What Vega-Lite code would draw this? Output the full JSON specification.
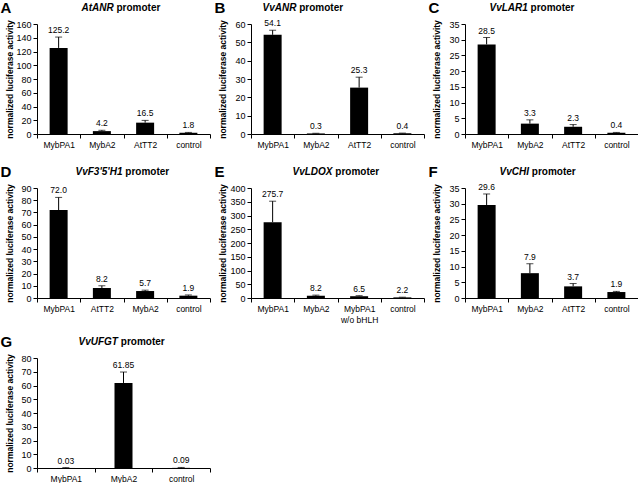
{
"$schema": "https://vega.github.io/schema/vega-lite/v6.json",
"background": "white",
"padding": {"left": 0, "top": 0, "right": 0, "bottom": 0},
"config": {
  "font": "Liberation Sans",
  "view": {"stroke": null},
  "scale": {"bandPaddingInner": 0, "bandPaddingOuter": 0},
  "axis": {"grid": false, "domainColor": "#000", "tickColor": "#000", "labelColor": "#000", "titleColor": "#000", "tickSize": 4, "labelPadding": 2, "labelFont": "Liberation Sans", "titleFont": "Liberation Sans"},
  "text": {"font": "Liberation Sans", "fontSize": 8.5, "color": "#000"}
},
"data": {"values": [
  {"p":"A","c":"MybPA1","o":1,"v":125.2,"hi":141,"l":"125.2"},
  {"p":"A","c":"MybA2","o":2,"v":4.2,"hi":5.4,"l":"4.2"},
  {"p":"A","c":"AtTT2","o":3,"v":16.5,"hi":19.8,"l":"16.5"},
  {"p":"A","c":"control","o":4,"v":1.8,"hi":2.3,"l":"1.8"},
  {"p":"B","c":"MybPA1","o":1,"v":54.1,"hi":56.6,"l":"54.1"},
  {"p":"B","c":"MybA2","o":2,"v":0.3,"hi":0.4,"l":"0.3"},
  {"p":"B","c":"AtTT2","o":3,"v":25.3,"hi":31,"l":"25.3"},
  {"p":"B","c":"control","o":4,"v":0.4,"hi":0.5,"l":"0.4"},
  {"p":"C","c":"MybPA1","o":1,"v":28.5,"hi":30.7,"l":"28.5"},
  {"p":"C","c":"MybA2","o":2,"v":3.3,"hi":4.5,"l":"3.3"},
  {"p":"C","c":"AtTT2","o":3,"v":2.3,"hi":3.0,"l":"2.3"},
  {"p":"C","c":"control","o":4,"v":0.4,"hi":0.5,"l":"0.4"},
  {"p":"D","c":"MybPA1","o":1,"v":72.0,"hi":82.3,"l":"72.0"},
  {"p":"D","c":"AtTT2","o":2,"v":8.2,"hi":10,"l":"8.2"},
  {"p":"D","c":"MybA2","o":3,"v":5.7,"hi":6.4,"l":"5.7"},
  {"p":"D","c":"control","o":4,"v":1.9,"hi":2.5,"l":"1.9"},
  {"p":"E","c":"MybPA1","o":1,"v":275.7,"hi":352,"l":"275.7"},
  {"p":"E","c":"MybA2","o":2,"v":8.2,"hi":10.5,"l":"8.2"},
  {"p":"E","c":"MybPA1|w/o bHLH","o":3,"v":6.5,"hi":8.5,"l":"6.5"},
  {"p":"E","c":"control","o":4,"v":2.2,"hi":3,"l":"2.2"},
  {"p":"F","c":"MybPA1","o":1,"v":29.6,"hi":33.1,"l":"29.6"},
  {"p":"F","c":"MybA2","o":2,"v":7.9,"hi":10.9,"l":"7.9"},
  {"p":"F","c":"AtTT2","o":3,"v":3.7,"hi":4.6,"l":"3.7"},
  {"p":"F","c":"control","o":4,"v":1.9,"hi":2.1,"l":"1.9"},
  {"p":"G","c":"MybPA1","o":1,"v":0.03,"hi":0.3,"l":"0.03"},
  {"p":"G","c":"MybA2","o":2,"v":61.85,"hi":69.8,"l":"61.85"},
  {"p":"G","c":"control","o":3,"v":0.09,"hi":0.4,"l":"0.09"}
]},
"spacing": 10,
"vconcat": [
 {"spacing": 15, "vconcat": [
  {"spacing": 3, "hconcat": [
   {"width": 173, "height": 110, "transform": [{"filter": "datum.p == 'A'"}], "resolve": {"axis": {"x": "independent", "y": "independent"}},
    "layer": [
     {"mark": {"type": "bar", "color": "#000", "size": 18}, "encoding": {
       "x": {"field": "c", "type": "nominal", "sort": {"field": "o", "op": "min"}, "axis": {"title": null, "labelAngle": 0, "labelExpr": "split(datum.label, '|')", "tickBand": "extent", "labelFontSize": 8.5, "labelLineHeight": 11}},
       "y": {"field": "v", "type": "quantitative", "scale": {"domain": [0, 160], "nice": false}, "axis": {"values": [0,20,40,60,80,100,120,140,160], "labelFontSize": 9, "title": "normalized luciferase activity", "titleFontSize": 8.5, "titleFontWeight": "bold", "titleX": -28, "titleY": 55, "titleAngle": 270, "titleAlign": "center", "titleBaseline": "middle"}}}},
     {"mark": {"type": "rule", "color": "#000"}, "encoding": {
       "x": {"field": "c", "type": "nominal", "sort": {"field": "o", "op": "min"}, "axis": {"orient": "top", "labels": false, "ticks": false, "domain": false, "title": "A", "titleFontSize": 15, "titleFontWeight": "bold", "titleAngle": 0, "titleAlign": "left", "titleBaseline": "alphabetic", "titleX": -37, "titleY": -12}},
       "y": {"field": "v", "type": "quantitative", "scale": {"domain": [0, 160], "nice": false}, "axis": null},
       "y2": {"field": "hi"}}},
     {"mark": {"type": "tick", "color": "#000", "size": 7, "thickness": 1}, "encoding": {
       "x": {"field": "c", "type": "nominal", "sort": {"field": "o", "op": "min"}, "axis": {"orient": "top", "labels": false, "ticks": false, "domain": false, "title": "AtANR", "titleFontSize": 10, "titleFontWeight": "bold", "titleFontStyle": "italic", "titleAngle": 0, "titleAlign": "left", "titleBaseline": "alphabetic", "titleX": 44, "titleY": -14}},
       "y": {"field": "hi", "type": "quantitative", "scale": {"domain": [0, 160], "nice": false}, "axis": {"orient": "right", "labels": false, "ticks": false, "domain": false, "title": "promoter", "titleFontSize": 10, "titleFontWeight": "bold", "titleAngle": 0, "titleAlign": "left", "titleBaseline": "alphabetic", "titleX": -94, "titleY": -14}}}},
     {"mark": {"type": "text", "dy": -4, "baseline": "alphabetic"}, "encoding": {
       "x": {"field": "c", "type": "nominal", "sort": {"field": "o", "op": "min"}, "axis": null},
       "y": {"field": "hi", "type": "quantitative", "scale": {"domain": [0, 160], "nice": false}, "axis": null},
       "text": {"field": "l"}}}
    ]},
   {"width": 173, "height": 110, "transform": [{"filter": "datum.p == 'B'"}], "resolve": {"axis": {"x": "independent", "y": "independent"}},
    "layer": [
     {"mark": {"type": "bar", "color": "#000", "size": 18}, "encoding": {
       "x": {"field": "c", "type": "nominal", "sort": {"field": "o", "op": "min"}, "axis": {"title": null, "labelAngle": 0, "labelExpr": "split(datum.label, '|')", "tickBand": "extent", "labelFontSize": 8.5, "labelLineHeight": 11}},
       "y": {"field": "v", "type": "quantitative", "scale": {"domain": [0, 60], "nice": false}, "axis": {"values": [0,10,20,30,40,50,60], "labelFontSize": 9, "title": "normalized luciferase activity", "titleFontSize": 8.5, "titleFontWeight": "bold", "titleX": -29, "titleY": 55, "titleAngle": 270, "titleAlign": "center", "titleBaseline": "middle"}}}},
     {"mark": {"type": "rule", "color": "#000"}, "encoding": {
       "x": {"field": "c", "type": "nominal", "sort": {"field": "o", "op": "min"}, "axis": {"orient": "top", "labels": false, "ticks": false, "domain": false, "title": "B", "titleFontSize": 15, "titleFontWeight": "bold", "titleAngle": 0, "titleAlign": "left", "titleBaseline": "alphabetic", "titleX": -37, "titleY": -12}},
       "y": {"field": "v", "type": "quantitative", "scale": {"domain": [0, 60], "nice": false}, "axis": null},
       "y2": {"field": "hi"}}},
     {"mark": {"type": "tick", "color": "#000", "size": 7, "thickness": 1}, "encoding": {
       "x": {"field": "c", "type": "nominal", "sort": {"field": "o", "op": "min"}, "axis": {"orient": "top", "labels": false, "ticks": false, "domain": false, "title": "VvANR", "titleFontSize": 10, "titleFontWeight": "bold", "titleFontStyle": "italic", "titleAngle": 0, "titleAlign": "left", "titleBaseline": "alphabetic", "titleX": 11, "titleY": -14}},
       "y": {"field": "hi", "type": "quantitative", "scale": {"domain": [0, 60], "nice": false}, "axis": {"orient": "right", "labels": false, "ticks": false, "domain": false, "title": "promoter", "titleFontSize": 10, "titleFontWeight": "bold", "titleAngle": 0, "titleAlign": "left", "titleBaseline": "alphabetic", "titleX": -125.3, "titleY": -14}}}},
     {"mark": {"type": "text", "dy": -4, "baseline": "alphabetic"}, "encoding": {
       "x": {"field": "c", "type": "nominal", "sort": {"field": "o", "op": "min"}, "axis": null},
       "y": {"field": "hi", "type": "quantitative", "scale": {"domain": [0, 60], "nice": false}, "axis": null},
       "text": {"field": "l"}}}
    ]},
   {"width": 173, "height": 110, "transform": [{"filter": "datum.p == 'C'"}], "resolve": {"axis": {"x": "independent", "y": "independent"}},
    "layer": [
     {"mark": {"type": "bar", "color": "#000", "size": 18}, "encoding": {
       "x": {"field": "c", "type": "nominal", "sort": {"field": "o", "op": "min"}, "axis": {"title": null, "labelAngle": 0, "labelExpr": "split(datum.label, '|')", "tickBand": "extent", "labelFontSize": 8.5, "labelLineHeight": 11}},
       "y": {"field": "v", "type": "quantitative", "scale": {"domain": [0, 35], "nice": false}, "axis": {"values": [0,5,10,15,20,25,30,35], "labelFontSize": 9, "title": "normalized luciferase activity", "titleFontSize": 8.5, "titleFontWeight": "bold", "titleX": -29, "titleY": 55, "titleAngle": 270, "titleAlign": "center", "titleBaseline": "middle"}}}},
     {"mark": {"type": "rule", "color": "#000"}, "encoding": {
       "x": {"field": "c", "type": "nominal", "sort": {"field": "o", "op": "min"}, "axis": {"orient": "top", "labels": false, "ticks": false, "domain": false, "title": "C", "titleFontSize": 15, "titleFontWeight": "bold", "titleAngle": 0, "titleAlign": "left", "titleBaseline": "alphabetic", "titleX": -37, "titleY": -12}},
       "y": {"field": "v", "type": "quantitative", "scale": {"domain": [0, 35], "nice": false}, "axis": null},
       "y2": {"field": "hi"}}},
     {"mark": {"type": "tick", "color": "#000", "size": 7, "thickness": 1}, "encoding": {
       "x": {"field": "c", "type": "nominal", "sort": {"field": "o", "op": "min"}, "axis": {"orient": "top", "labels": false, "ticks": false, "domain": false, "title": "VvLAR1", "titleFontSize": 10, "titleFontWeight": "bold", "titleFontStyle": "italic", "titleAngle": 0, "titleAlign": "left", "titleBaseline": "alphabetic", "titleX": 24, "titleY": -14}},
       "y": {"field": "hi", "type": "quantitative", "scale": {"domain": [0, 35], "nice": false}, "axis": {"orient": "right", "labels": false, "ticks": false, "domain": false, "title": "promoter", "titleFontSize": 10, "titleFontWeight": "bold", "titleAngle": 0, "titleAlign": "left", "titleBaseline": "alphabetic", "titleX": -107.9, "titleY": -14}}}},
     {"mark": {"type": "text", "dy": -4, "baseline": "alphabetic"}, "encoding": {
       "x": {"field": "c", "type": "nominal", "sort": {"field": "o", "op": "min"}, "axis": null},
       "y": {"field": "hi", "type": "quantitative", "scale": {"domain": [0, 35], "nice": false}, "axis": null},
       "text": {"field": "l"}}}
    ]}
  ]},
  {"spacing": 3, "hconcat": [
   {"width": 173, "height": 110, "transform": [{"filter": "datum.p == 'D'"}], "resolve": {"axis": {"x": "independent", "y": "independent"}},
    "layer": [
     {"mark": {"type": "bar", "color": "#000", "size": 18}, "encoding": {
       "x": {"field": "c", "type": "nominal", "sort": {"field": "o", "op": "min"}, "axis": {"title": null, "labelAngle": 0, "labelExpr": "split(datum.label, '|')", "tickBand": "extent", "labelFontSize": 8.5, "labelLineHeight": 11}},
       "y": {"field": "v", "type": "quantitative", "scale": {"domain": [0, 90], "nice": false}, "axis": {"values": [0,10,20,30,40,50,60,70,80,90], "labelFontSize": 9, "title": "normalized luciferase activity", "titleFontSize": 8.5, "titleFontWeight": "bold", "titleX": -28, "titleY": 55, "titleAngle": 270, "titleAlign": "center", "titleBaseline": "middle"}}}},
     {"mark": {"type": "rule", "color": "#000"}, "encoding": {
       "x": {"field": "c", "type": "nominal", "sort": {"field": "o", "op": "min"}, "axis": {"orient": "top", "labels": false, "ticks": false, "domain": false, "title": "D", "titleFontSize": 15, "titleFontWeight": "bold", "titleAngle": 0, "titleAlign": "left", "titleBaseline": "alphabetic", "titleX": -37, "titleY": -12}},
       "y": {"field": "v", "type": "quantitative", "scale": {"domain": [0, 90], "nice": false}, "axis": null},
       "y2": {"field": "hi"}}},
     {"mark": {"type": "tick", "color": "#000", "size": 7, "thickness": 1}, "encoding": {
       "x": {"field": "c", "type": "nominal", "sort": {"field": "o", "op": "min"}, "axis": {"orient": "top", "labels": false, "ticks": false, "domain": false, "title": "VvF3'5'H1", "titleFontSize": 10, "titleFontWeight": "bold", "titleFontStyle": "italic", "titleAngle": 0, "titleAlign": "left", "titleBaseline": "alphabetic", "titleX": 38, "titleY": -14}},
       "y": {"field": "hi", "type": "quantitative", "scale": {"domain": [0, 90], "nice": false}, "axis": {"orient": "right", "labels": false, "ticks": false, "domain": false, "title": "promoter", "titleFontSize": 10, "titleFontWeight": "bold", "titleAngle": 0, "titleAlign": "left", "titleBaseline": "alphabetic", "titleX": -85.2, "titleY": -14}}}},
     {"mark": {"type": "text", "dy": -4, "baseline": "alphabetic"}, "encoding": {
       "x": {"field": "c", "type": "nominal", "sort": {"field": "o", "op": "min"}, "axis": null},
       "y": {"field": "hi", "type": "quantitative", "scale": {"domain": [0, 90], "nice": false}, "axis": null},
       "text": {"field": "l"}}}
    ]},
   {"width": 173, "height": 110, "transform": [{"filter": "datum.p == 'E'"}], "resolve": {"axis": {"x": "independent", "y": "independent"}},
    "layer": [
     {"mark": {"type": "bar", "color": "#000", "size": 18}, "encoding": {
       "x": {"field": "c", "type": "nominal", "sort": {"field": "o", "op": "min"}, "axis": {"title": null, "labelAngle": 0, "labelExpr": "split(datum.label, '|')", "tickBand": "extent", "labelFontSize": 8.5, "labelLineHeight": 11}},
       "y": {"field": "v", "type": "quantitative", "scale": {"domain": [0, 400], "nice": false}, "axis": {"values": [0,50,100,150,200,250,300,350,400], "labelFontSize": 9, "title": "normalized luciferase activity", "titleFontSize": 8.5, "titleFontWeight": "bold", "titleX": -29, "titleY": 55, "titleAngle": 270, "titleAlign": "center", "titleBaseline": "middle"}}}},
     {"mark": {"type": "rule", "color": "#000"}, "encoding": {
       "x": {"field": "c", "type": "nominal", "sort": {"field": "o", "op": "min"}, "axis": {"orient": "top", "labels": false, "ticks": false, "domain": false, "title": "E", "titleFontSize": 15, "titleFontWeight": "bold", "titleAngle": 0, "titleAlign": "left", "titleBaseline": "alphabetic", "titleX": -37, "titleY": -12}},
       "y": {"field": "v", "type": "quantitative", "scale": {"domain": [0, 400], "nice": false}, "axis": null},
       "y2": {"field": "hi"}}},
     {"mark": {"type": "tick", "color": "#000", "size": 7, "thickness": 1}, "encoding": {
       "x": {"field": "c", "type": "nominal", "sort": {"field": "o", "op": "min"}, "axis": {"orient": "top", "labels": false, "ticks": false, "domain": false, "title": "VvLDOX", "titleFontSize": 10, "titleFontWeight": "bold", "titleFontStyle": "italic", "titleAngle": 0, "titleAlign": "left", "titleBaseline": "alphabetic", "titleX": 41, "titleY": -14}},
       "y": {"field": "hi", "type": "quantitative", "scale": {"domain": [0, 400], "nice": false}, "axis": {"orient": "right", "labels": false, "ticks": false, "domain": false, "title": "promoter", "titleFontSize": 10, "titleFontWeight": "bold", "titleAngle": 0, "titleAlign": "left", "titleBaseline": "alphabetic", "titleX": -89.2, "titleY": -14}}}},
     {"mark": {"type": "text", "dy": -4, "baseline": "alphabetic"}, "encoding": {
       "x": {"field": "c", "type": "nominal", "sort": {"field": "o", "op": "min"}, "axis": null},
       "y": {"field": "hi", "type": "quantitative", "scale": {"domain": [0, 400], "nice": false}, "axis": null},
       "text": {"field": "l"}}}
    ]},
   {"width": 173, "height": 110, "transform": [{"filter": "datum.p == 'F'"}], "resolve": {"axis": {"x": "independent", "y": "independent"}},
    "layer": [
     {"mark": {"type": "bar", "color": "#000", "size": 18}, "encoding": {
       "x": {"field": "c", "type": "nominal", "sort": {"field": "o", "op": "min"}, "axis": {"title": null, "labelAngle": 0, "labelExpr": "split(datum.label, '|')", "tickBand": "extent", "labelFontSize": 8.5, "labelLineHeight": 11}},
       "y": {"field": "v", "type": "quantitative", "scale": {"domain": [0, 35], "nice": false}, "axis": {"values": [0,5,10,15,20,25,30,35], "labelFontSize": 9, "title": "normalized luciferase activity", "titleFontSize": 8.5, "titleFontWeight": "bold", "titleX": -29, "titleY": 55, "titleAngle": 270, "titleAlign": "center", "titleBaseline": "middle"}}}},
     {"mark": {"type": "rule", "color": "#000"}, "encoding": {
       "x": {"field": "c", "type": "nominal", "sort": {"field": "o", "op": "min"}, "axis": {"orient": "top", "labels": false, "ticks": false, "domain": false, "title": "F", "titleFontSize": 15, "titleFontWeight": "bold", "titleAngle": 0, "titleAlign": "left", "titleBaseline": "alphabetic", "titleX": -37, "titleY": -12}},
       "y": {"field": "v", "type": "quantitative", "scale": {"domain": [0, 35], "nice": false}, "axis": null},
       "y2": {"field": "hi"}}},
     {"mark": {"type": "tick", "color": "#000", "size": 7, "thickness": 1}, "encoding": {
       "x": {"field": "c", "type": "nominal", "sort": {"field": "o", "op": "min"}, "axis": {"orient": "top", "labels": false, "ticks": false, "domain": false, "title": "VvCHI", "titleFontSize": 10, "titleFontWeight": "bold", "titleFontStyle": "italic", "titleAngle": 0, "titleAlign": "left", "titleBaseline": "alphabetic", "titleX": 34, "titleY": -14}},
       "y": {"field": "hi", "type": "quantitative", "scale": {"domain": [0, 35], "nice": false}, "axis": {"orient": "right", "labels": false, "ticks": false, "domain": false, "title": "promoter", "titleFontSize": 10, "titleFontWeight": "bold", "titleAngle": 0, "titleAlign": "left", "titleBaseline": "alphabetic", "titleX": -106.7, "titleY": -14}}}},
     {"mark": {"type": "text", "dy": -4, "baseline": "alphabetic"}, "encoding": {
       "x": {"field": "c", "type": "nominal", "sort": {"field": "o", "op": "min"}, "axis": null},
       "y": {"field": "hi", "type": "quantitative", "scale": {"domain": [0, 35], "nice": false}, "axis": null},
       "text": {"field": "l"}}}
    ]}
  ]}
 ]},
 {"spacing": 3, "hconcat": [
   {"width": 173, "height": 110, "transform": [{"filter": "datum.p == 'G'"}], "resolve": {"axis": {"x": "independent", "y": "independent"}},
    "layer": [
     {"mark": {"type": "bar", "color": "#000", "size": 18}, "encoding": {
       "x": {"field": "c", "type": "nominal", "sort": {"field": "o", "op": "min"}, "axis": {"title": null, "labelAngle": 0, "labelExpr": "split(datum.label, '|')", "tickBand": "extent", "labelFontSize": 8.5, "labelLineHeight": 11}},
       "y": {"field": "v", "type": "quantitative", "scale": {"domain": [0, 80], "nice": false}, "axis": {"values": [0,10,20,30,40,50,60,70,80], "labelFontSize": 9, "title": "normalized luciferase activity", "titleFontSize": 8.5, "titleFontWeight": "bold", "titleX": -28, "titleY": 55, "titleAngle": 270, "titleAlign": "center", "titleBaseline": "middle"}}}},
     {"mark": {"type": "rule", "color": "#000"}, "encoding": {
       "x": {"field": "c", "type": "nominal", "sort": {"field": "o", "op": "min"}, "axis": {"orient": "top", "labels": false, "ticks": false, "domain": false, "title": "G", "titleFontSize": 15, "titleFontWeight": "bold", "titleAngle": 0, "titleAlign": "left", "titleBaseline": "alphabetic", "titleX": -37, "titleY": -12}},
       "y": {"field": "v", "type": "quantitative", "scale": {"domain": [0, 80], "nice": false}, "axis": null},
       "y2": {"field": "hi"}}},
     {"mark": {"type": "tick", "color": "#000", "size": 7, "thickness": 1}, "encoding": {
       "x": {"field": "c", "type": "nominal", "sort": {"field": "o", "op": "min"}, "axis": {"orient": "top", "labels": false, "ticks": false, "domain": false, "title": "VvUFGT", "titleFontSize": 10, "titleFontWeight": "bold", "titleFontStyle": "italic", "titleAngle": 0, "titleAlign": "left", "titleBaseline": "alphabetic", "titleX": 41, "titleY": -14}},
       "y": {"field": "hi", "type": "quantitative", "scale": {"domain": [0, 80], "nice": false}, "axis": {"orient": "right", "labels": false, "ticks": false, "domain": false, "title": "promoter", "titleFontSize": 10, "titleFontWeight": "bold", "titleAngle": 0, "titleAlign": "left", "titleBaseline": "alphabetic", "titleX": -89.7, "titleY": -14}}}},
     {"mark": {"type": "text", "dy": -4, "baseline": "alphabetic"}, "encoding": {
       "x": {"field": "c", "type": "nominal", "sort": {"field": "o", "op": "min"}, "axis": null},
       "y": {"field": "hi", "type": "quantitative", "scale": {"domain": [0, 80], "nice": false}, "axis": null},
       "text": {"field": "l"}}}
    ]}
 ]}
]
}
